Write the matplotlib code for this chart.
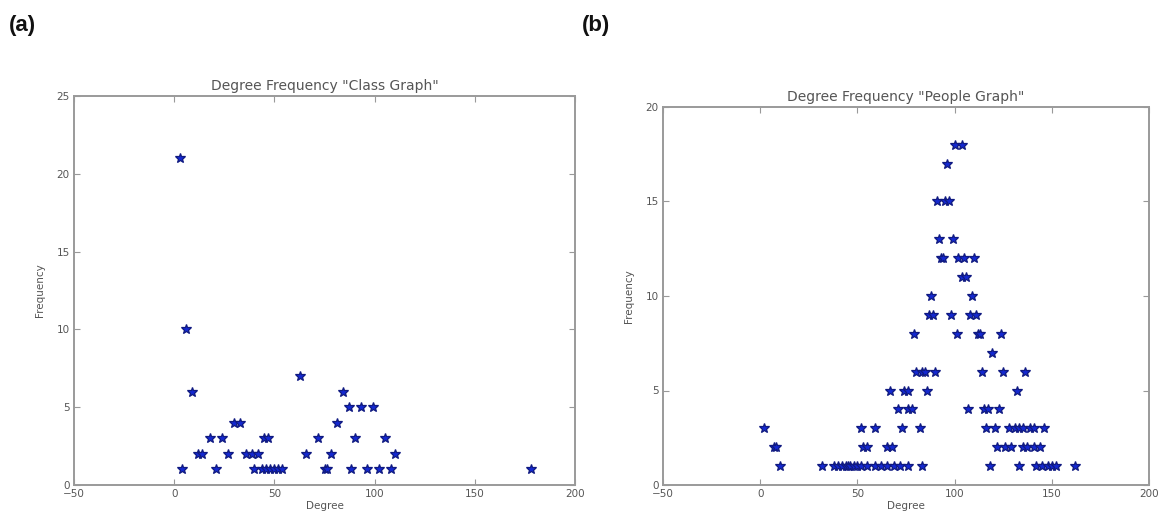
import matplotlib
matplotlib.use('Agg')
import matplotlib.pyplot as plt

# degree -> frequency, class graph
class_freq = [21, 10, 7, 6, 5, 4, 3, 2, 1]
class_deg = [
    [3],
    [6],
    [63],
    [9, 84],
    [87, 93, 99],
    [30, 33, 81],
    [18, 24, 45, 47, 72, 90, 105],
    [12, 14, 27, 36, 39, 42, 66, 78, 110],
    [4, 21, 40, 44, 46, 48, 50, 52, 54, 75, 76, 88, 96, 102, 108, 178],
]

# degree -> frequency, people graph
people_freq = [18, 17, 15, 13, 12, 11, 10, 9, 8, 7, 6, 5, 4, 3, 2, 1]
people_deg = [
    [100, 104],
    [96],
    [91, 95, 97],
    [92, 99],
    [93, 94, 102, 105, 110],
    [104, 106],
    [88, 109],
    [87, 89, 98, 108, 111],
    [79, 101, 112, 113, 124],
    [119],
    [80, 83, 85, 90, 114, 125, 136],
    [67, 74, 76, 86, 132],
    [71, 76, 78, 107, 115, 117, 123],
    [2, 52, 59, 73, 82, 116, 121, 128, 131, 133, 135, 139, 141, 146],
    [7, 8, 53, 55, 65, 68, 122, 126, 129, 135, 137, 141, 144],
    [10, 32, 38, 40, 42, 44, 45, 46, 48, 50, 52, 55, 59, 62, 65, 69, 72, 76,
     83, 118, 133, 142, 145, 148, 150, 152, 162],
]

xticks = [-50, 0, 50, 100, 150, 200]


def flatten(freqs, degs):
    xs, ys = [], []
    for f, row in zip(freqs, degs):
        for d in row:
            xs.append(d)
            ys.append(f)
    return xs, ys


def draw(ax, xs, ys, title, ymax, ystep):
    ax.plot(xs, ys, linestyle='none', marker='*', markersize=7,
            markerfacecolor='#1428d0', markeredgecolor='#101a80', markeredgewidth=0.9)
    ax.set_xlim(-50, 200)
    ax.set_ylim(0, ymax)
    ax.set_xticks(xticks)
    ax.set_yticks(range(0, ymax + 1, ystep))
    ax.tick_params(direction='in', top=True, right=True, length=4, width=0.8,
                   color='#999999', labelsize=7.5, labelcolor='#555555', pad=3)
    for s in ax.spines.values():
        s.set_color('#9a9a9a')
        s.set_linewidth(1.4)
    ax.set_title(title, fontsize=10, color='#555555', pad=4)
    ax.set_xlabel('Degree', fontsize=7.5, color='#555555', labelpad=1)
    ax.set_ylabel('Frequency', fontsize=7.5, color='#555555', labelpad=8)


fig = plt.figure(figsize=(11.6, 5.14), dpi=100)

ax1 = fig.add_axes([74 / 1160, 1 - 485 / 514, 501 / 1160, 389 / 514])
x1, y1 = flatten(class_freq, class_deg)
draw(ax1, x1, y1, 'Degree Frequency "Class Graph"', 25, 5)

ax2 = fig.add_axes([663 / 1160, 1 - 485 / 514, 486 / 1160, 378 / 514])
x2, y2 = flatten(people_freq, people_deg)
draw(ax2, x2, y2, 'Degree Frequency "People Graph"', 20, 5)

fig.text(9 / 1160, 1 - 31 / 514, '(a)', fontsize=16, fontweight='bold',
         family='Liberation Sans', color='#111111')
fig.text(582 / 1160, 1 - 31 / 514, '(b)', fontsize=16, fontweight='bold',
         family='Liberation Sans', color='#111111')

fig.savefig('out.png', dpi=100)
